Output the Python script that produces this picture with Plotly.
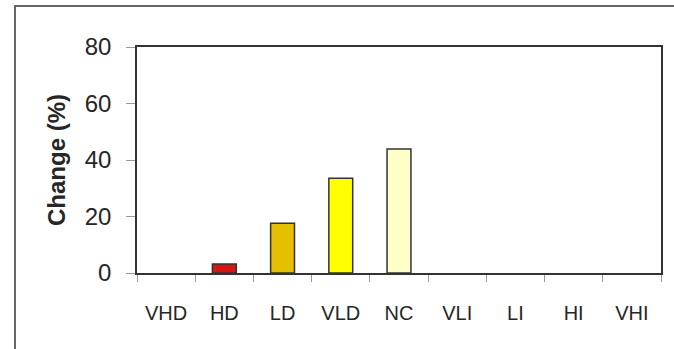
import plotly.graph_objects as go

categories = ["VHD", "HD", "LD", "VLD", "NC", "VLI", "LI", "HI", "VHI"]
values = [0, 3.2, 17.6, 33.5, 43.9, 0, 0, 0, 0]
colors = ["#ffffff", "#d81414", "#e6c000", "#ffff00", "#ffffc8",
          "#ffffff", "#ffffff", "#ffffff", "#ffffff"]
y_ticks = [0, 20, 40, 60, 80]

W, H = 674, 349
L, R, T, B = 137, 661, 47, 273

fig = go.Figure()
fig.add_trace(go.Bar(
    x=categories, y=values, width=0.41,
    marker=dict(color=colors,
                line=dict(color="#333333",
                          width=[1.5 if v > 0 else 0 for v in values])),
    showlegend=False,
))

pw, ph = R - L, B - T
def px(x):
    return (x - L) / pw
def py(y):
    return (B - y) / ph

frame = dict(color="#666666", width=2)
fig.add_shape(type="line", xref="paper", yref="paper",
              x0=px(14), x1=px(W + 10), y0=py(6), y1=py(6), line=frame)
fig.add_shape(type="line", xref="paper", yref="paper",
              x0=px(15), x1=px(15), y0=py(5), y1=py(H + 10), line=frame)

fig.update_layout(
    width=W, height=H,
    margin=dict(l=L, r=W - R, t=T, b=H - B, autoexpand=False),
    paper_bgcolor="white", plot_bgcolor="white",
    font=dict(family="Liberation Sans, Arial, sans-serif", color="#262626"),
)
fig.update_xaxes(
    type="category", showline=True, linecolor="#333333", linewidth=1.5,
    mirror=True, ticks="outside", tickson="boundaries", ticklen=7,
    tickcolor="#999999", tickfont=dict(size=20), ticklabelstandoff=21,
    showgrid=False, zeroline=False,
)
fig.update_yaxes(
    range=[0, 80], tickvals=y_ticks, showline=True, linecolor="#333333",
    linewidth=1.5, mirror=True, ticks="outside", ticklen=9,
    tickcolor="#999999", tickfont=dict(size=24), ticklabelstandoff=10,
    showgrid=False, zeroline=False,
    title=dict(text="<b>Change (%)</b>", font=dict(size=24), standoff=12),
)

fig.write_html("out.html", config={"displayModeBar": False},
               post_script="document.body.style.margin='0';")
